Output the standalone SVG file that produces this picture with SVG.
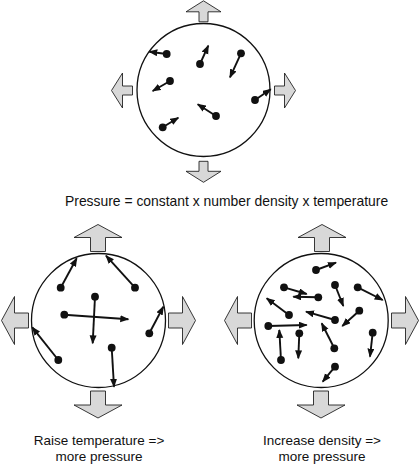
<svg xmlns="http://www.w3.org/2000/svg" width="419" height="468" viewBox="0 0 419 468">
<style>
.push{fill:#d8d8d8;stroke:#222;stroke-width:0.9;stroke-linejoin:miter}
.box{fill:#fff;stroke:#111;stroke-width:1.3}
.mol line{stroke:#111;stroke-width:1.9;marker-end:url(#ah)}
.mol circle{fill:#111}
.lbl{font-family:"Liberation Sans",Arial,Helvetica,sans-serif;fill:#111}
</style>
<defs>
<marker id="ah" markerWidth="11" markerHeight="8" refX="8" refY="3.5" orient="auto" markerUnits="userSpaceOnUse">
<path d="M0,0 L9,3.5 L0,7 Z" fill="#111"/>
</marker>
<path id="sa" d="M0,0 L17.5,11 L4.5,11 L4.5,21 L-4.5,21 L-4.5,11 L-17.5,11 Z"/>
<path id="ba" d="M0,0 L24,13 L7.5,13 L7.5,27 L-7.5,27 L-7.5,13 L-24,13 Z"/>
</defs>

<g id="gas-normal">
<g class="push">
<use href="#sa" transform="translate(203.5,0.8)"/>
<use href="#sa" transform="translate(203.5,182.3) rotate(180)"/>
<use href="#sa" transform="translate(111.5,90.5) rotate(-90)"/>
<use href="#sa" transform="translate(295.5,90.5) rotate(90)"/>
</g>
<circle class="box" cx="203.5" cy="90" r="66.5"/>
<g class="mol">
<line x1="166.7" y1="54" x2="149.3" y2="51.7"/><circle cx="166.7" cy="54" r="3.9"/>
<line x1="200" y1="64" x2="208.3" y2="45.7"/><circle cx="200" cy="64" r="3.9"/>
<line x1="241" y1="53.3" x2="230" y2="77.3"/><circle cx="241" cy="53.3" r="3.9"/>
<line x1="170" y1="81" x2="152.7" y2="91"/><circle cx="170" cy="81" r="3.9"/>
<line x1="255" y1="100" x2="270.7" y2="89.3"/><circle cx="255" cy="100" r="3.9"/>
<line x1="216" y1="116" x2="197.7" y2="104.3"/><circle cx="216" cy="116" r="3.9"/>
<line x1="162.7" y1="127.3" x2="178.3" y2="117.7"/><circle cx="162.7" cy="127.3" r="3.9"/>
</g>
</g>

<g id="formula">
<text class="lbl" x="65" y="206" font-size="13.9">Pressure = constant x number density x temperature</text>
</g>

<g id="gas-hot">
<g class="push">
<use href="#ba" transform="translate(98,224.5)"/>
<use href="#ba" transform="translate(98,418) rotate(180)"/>
<use href="#ba" transform="translate(1.5,320.5) rotate(-90)"/>
<use href="#ba" transform="translate(195.5,320.5) rotate(90)"/>
</g>
<circle class="box" cx="98.5" cy="320.5" r="67"/>
<g class="mol">
<line x1="60.7" y1="287.7" x2="76.7" y2="258.3"/><circle cx="60.7" cy="287.7" r="3.9"/>
<line x1="135" y1="287.7" x2="106" y2="255.7"/><circle cx="135" cy="287.7" r="3.9"/>
<line x1="95" y1="296.7" x2="92.7" y2="343.3"/><circle cx="95" cy="296.7" r="3.9"/>
<line x1="64.3" y1="314.7" x2="128.3" y2="319.3"/><circle cx="64.3" cy="314.7" r="3.9"/>
<line x1="149.3" y1="333.3" x2="163.3" y2="306.7"/><circle cx="149.3" cy="333.3" r="3.9"/>
<line x1="58.3" y1="360" x2="32.3" y2="327.3"/><circle cx="58.3" cy="360" r="3.9"/>
<line x1="111.7" y1="347.7" x2="114" y2="386.7"/><circle cx="111.7" cy="347.7" r="3.9"/>
</g>
<text class="lbl" x="99" y="445" font-size="13.5" text-anchor="middle">Raise temperature =&gt;</text>
<text class="lbl" x="99" y="461" font-size="13.5" text-anchor="middle">more pressure</text>
</g>

<g id="gas-dense">
<g class="push">
<use href="#ba" transform="translate(322,224.5)"/>
<use href="#ba" transform="translate(321,418) rotate(180)"/>
<use href="#ba" transform="translate(224.5,320.5) rotate(-90)"/>
<use href="#ba" transform="translate(418.5,320.5) rotate(90)"/>
</g>
<circle class="box" cx="321.2" cy="320.5" r="67"/>
<g class="mol">
<line x1="316" y1="270" x2="336" y2="262.7"/><circle cx="316" cy="270" r="3.9"/>
<line x1="284" y1="287.3" x2="306.7" y2="294"/><circle cx="284" cy="287.3" r="3.9"/>
<line x1="318.3" y1="297.3" x2="293.3" y2="296.7"/><circle cx="318.3" cy="297.3" r="3.9"/>
<line x1="335" y1="285" x2="343.3" y2="306"/><circle cx="335" cy="285" r="3.9"/>
<line x1="357.7" y1="287.3" x2="382.7" y2="300"/><circle cx="357.7" cy="287.3" r="3.9"/>
<line x1="289" y1="315" x2="266.7" y2="298.3"/><circle cx="289" cy="315" r="3.9"/>
<line x1="335" y1="320" x2="306" y2="311.7"/><circle cx="335" cy="320" r="3.9"/>
<line x1="359.3" y1="310.7" x2="342.3" y2="326"/><circle cx="359.3" cy="310.7" r="3.9"/>
<line x1="268.3" y1="326" x2="306.7" y2="325"/><circle cx="268.3" cy="326" r="3.9"/>
<line x1="299.3" y1="333.3" x2="298.3" y2="358.3"/><circle cx="299.3" cy="333.3" r="3.9"/>
<line x1="281" y1="360" x2="279.3" y2="330"/><circle cx="281" cy="360" r="3.9"/>
<line x1="334.3" y1="348.3" x2="321.7" y2="323.3"/><circle cx="334.3" cy="348.3" r="3.9"/>
<line x1="372.7" y1="332.7" x2="370" y2="356.7"/><circle cx="372.7" cy="332.7" r="3.9"/>
<line x1="335" y1="366.7" x2="322.7" y2="381.7"/><circle cx="335" cy="366.7" r="3.9"/>
</g>
<text class="lbl" x="322" y="445" font-size="13.5" text-anchor="middle">Increase density =&gt;</text>
<text class="lbl" x="322" y="461" font-size="13.5" text-anchor="middle">more pressure</text>
</g>
</svg>
